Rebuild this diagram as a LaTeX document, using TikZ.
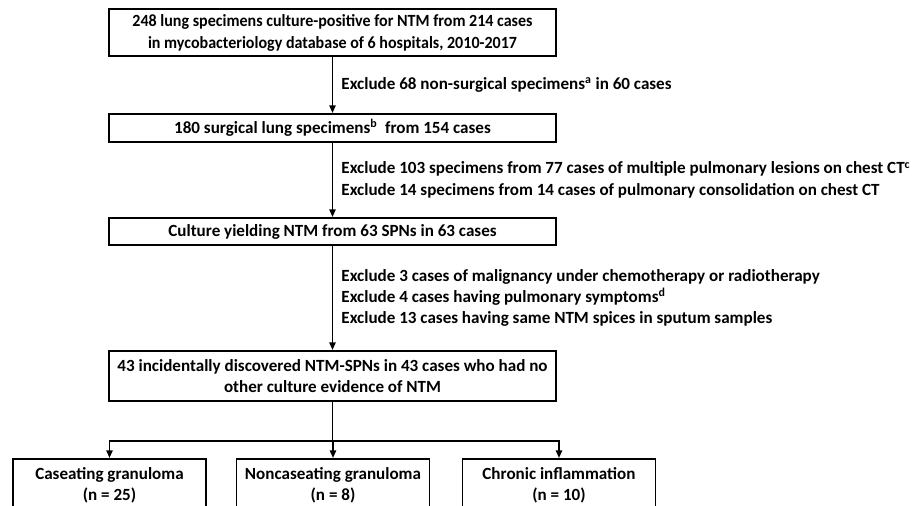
\documentclass[tikz,border=0pt]{standalone}
\usepackage{fontspec}
\usepackage{graphicx}
\setmainfont{Carlito}
\newcommand{\squeeze}[1]{\scalebox{0.94}[1]{#1}}
\usetikzlibrary{arrows.meta,positioning,calc}

\begin{document}
\begin{tikzpicture}[x=0.75pt,y=-0.75pt,
    font=\bfseries\fontsize{12.8}{16}\selectfont,
    >={Triangle[length=2mm,width=1.6mm]},
    mainbox/.style={draw,line width=1.4pt,minimum width=447*0.75pt,align=center,inner sep=1pt},
    leafbox/.style={draw,line width=1.4pt,minimum width=193*0.75pt,minimum height=53*0.75pt,align=center},
    excl/.style={right=6pt,inner sep=0pt,align=left},
    flow/.style={->,line width=1.4pt}]
  \useasboundingbox (0,0) rectangle (915,506);
  % main flow
  \node[mainbox,minimum height=47*0.75pt,font=\bfseries\fontsize{12.8}{16.5}\selectfont] (all) at (332.5,32.5)
    {\squeeze{248 lung specimens culture-positive for NTM from 214 cases}\\
     \squeeze{in mycobacteriology database of 6 hospitals, 2010-2017}};
  \node[mainbox,minimum height=28*0.75pt] (surg) at (332.5,128)
    {180 surgical lung specimens\textsuperscript{b}\ \ from 154 cases};
  \node[mainbox,minimum height=27*0.75pt] (spn) at (332.5,231.5)
    {Culture yielding NTM from 63 SPNs in 63 cases};
  \node[mainbox,minimum height=50*0.75pt] (incid) at (332.5,376)
    {43 incidentally discovered NTM-SPNs in 43 cases who had no\\
     other culture evidence of NTM};
  \draw[flow] (all) -- (surg)
    node[midway,excl] {Exclude 68 non-surgical specimens\textsuperscript{a} in 60 cases};
  \draw[flow] (surg) -- (spn)
    node[midway,excl] {Exclude\ 103 specimens from 77 cases of multiple pulmonary lesions on chest CT\textsuperscript{c}\\
                       Exclude\ 14 specimens from 14 cases of pulmonary consolidation on chest CT};
  \draw[flow] (spn) -- (incid)
    node[midway,excl] {Exclude 3 cases of malignancy under chemotherapy or radiotherapy\\
                       Exclude 4 cases having pulmonary symptoms\textsuperscript{d}\\
                       Exclude 13 cases having same NTM spices in sputum samples};
  % pathology split
  \node[leafbox] (cas) at (109.5,485.5) {Caseating granuloma\\(n = 25)};
  \node[leafbox] (noncas) at (333,485.5) {Noncaseating granuloma\\(n = 8)};
  \node[leafbox] (chron) at (559,485.5) {Chronic inflammation\\(n = 10)};
  \coordinate (split) at ($(incid.south)+(0,39)$);
  \draw[line width=1.4pt] (incid.south) -- (split);
  \draw[flow] (split) -| (cas.north);
  \draw[flow] (split) -| (chron.north);
  \draw[flow] (split) -- (split -| noncas.north) -- (noncas.north);
\end{tikzpicture}
\end{document}
